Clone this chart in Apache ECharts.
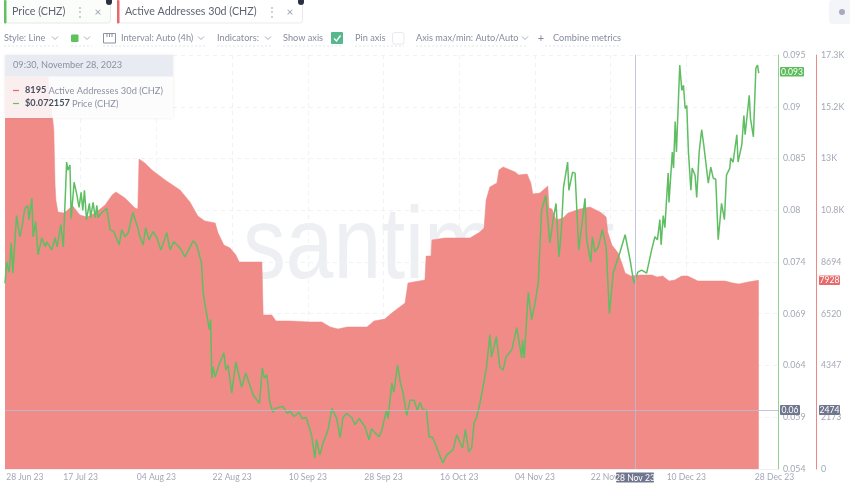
<!DOCTYPE html>
<html><head><meta charset="utf-8">
<style>html,body{margin:0;padding:0;background:#fff}#c{width:850px;height:489px}</style>
<script src="https://cdn.jsdelivr.net/npm/echarts@6/dist/echarts.min.js"></script>
</head><body><div id="c"></div>
<script>
// ---- data (x = days counted from the axis start, 28 Jun 2023 22:00) ----
const priceDays = [0,.4,1,1.5,1.9,2.8,3.6,4,4.8,5.5,5.8,6.5,6.8,7.4,8,8.9,9.7,10.1,11.3,12.1,12.6,13.5,14.1,14.9,15.2,15.7,16,16.7,17.3,17.9,18.4,18.8,19.2,19.7,20.4,20.7,21.3,21.8,22.2,22.5,23.4,24.6,25.4,26.3,27.6,28.2,29,29.8,30.9,32.1,32.6,33.4,34,34.8,35.8,36.7,37.7,39.1,39.9,40.8,42.3,43.5,45.5,46.3,47.5,47.9,48.6,49.4,49.7,50,50.3,50.8,51.7,52.9,53.4,53.9,54.8,55.8,57.2,58.2,60,61.5,62.2,62.7,63.3,64,64.8,65.3,67.2,68.2,68.9,69.9,71.1,71.8,72.8,74.1,74.9,75.3,76.1,76.9,78.1,79,80.2,81,81.7,82.6,83.8,84.6,85.6,87,88,88.6,89.4,90.4,91,92.2,92.6,93.5,94,94.9,95.6,96.2,97.1,97.9,98.9,99.7,100.3,101,101.9,102.5,103.4,104.1,105.8,106.8,108.3,109.2,110,110.6,111.3,112.1,112.8,113.4,114,114.8,115.5,116.4,117.2,117.6,118.8,119.6,120.4,121.1,122.5,123.7,124.9,125.1,125.5,126.5,127.3,128.1,128.9,129.7,130.7,131.7,132.5,133.2,133.9,134.5,135,136,136.3,137.2,137.8,138.2,138.7,140.2,140.6,141.6,142,142.6,143.4,144.4,145.3,146.1,147,148.6,149.9,151.1,152,153,153.9,155.1,156.3,157.1,157.7,158.3,158.6,159.1,159.5,160.3,160.5,161.3,161.6,162,162.3,163.1,163.6,164,164.4,164.8,165.2,165.8,166.1,166.8,167.2,167.8,168.4,168.9,170,170.6,171.2,171.8,172.4,173.2,173.9,174.4,175.2,175.4,176,176.9,177.2,178.1,178.6,178.9,179.9,180.2,180.9,181.5,181.9,182.2];
const priceValues = [.0724,.0745,.0735,.0764,.0734,.0791,.077,.0777,.0798,.0801,.0787,.0808,.077,.0785,.0752,.0769,.076,.0765,.0757,.0769,.076,.0782,.076,.0844,.0836,.0841,.0788,.0824,.0813,.0799,.0814,.0796,.0816,.0787,.0803,.0789,.0804,.0789,.0801,.0789,.0794,.0798,.0777,.0775,.0762,.0777,.077,.0774,.0794,.0779,.077,.0762,.0779,.0767,.0775,.0769,.0757,.0774,.0757,.0765,.0759,.075,.0766,.0762,.0744,.0714,.0697,.0678,.0688,.063,.0641,.0631,.0643,.0655,.0638,.0643,.0615,.0646,.0621,.0635,.0613,.0605,.064,.063,.0633,.0606,.0596,.06,.0602,.0595,.0597,.0592,.0596,.059,.0591,.0574,.0551,.0569,.0554,.0566,.0579,.06,.059,.0571,.0591,.0595,.0591,.0584,.059,.0582,.0569,.058,.0576,.0572,.0577,.0598,.059,.0625,.0616,.0643,.0625,.0616,.0593,.0608,.0608,.0598,.0606,.0599,.0598,.0572,.0571,.0564,.0546,.0554,.0559,.0574,.0566,.0561,.0579,.0557,.0561,.0586,.0591,.0605,.062,.0641,.0673,.0651,.0671,.0641,.0638,.0651,.0658,.068,.065,.0668,.065,.0715,.0688,.0704,.0724,.0796,.0811,.0764,.0787,.0803,.075,.0777,.0819,.0844,.0816,.0834,.0833,.0799,.0757,.0808,.0767,.0745,.077,.0755,.076,.0777,.076,.0694,.0734,.0754,.0772,.0747,.0724,.0735,.0737,.0734,.0757,.077,.0767,.0787,.0762,.0791,.0779,.0833,.0804,.0854,.0838,.0884,.0854,.094,.0915,.092,.0897,.09,.0854,.0816,.0838,.0831,.0809,.0854,.0876,.0861,.0823,.0839,.0828,.0827,.0767,.0803,.0787,.0831,.0838,.0848,.0844,.0871,.0844,.0861,.089,.0871,.091,.0887,.0869,.0937,.094,.0932];
const addressDays = [0,10.4,10.9,11.5,11.8,12.1,12.3,12.8,14.3,15.7,16.4,18.1,19.8,21.8,24.2,25.9,26.8,29,31.4,32.1,32.4,33.8,35.5,38.7,42.3,44.7,46.6,48.3,50.8,51.5,52.9,54.4,55.8,56.6,62.1,62.4,64.5,65.5,68.9,73.7,76.6,78.6,80.5,82.7,87.5,89.2,91.8,93.8,96.7,97.4,101.5,101.8,103,103.2,106.3,112.4,114.8,115.8,116.3,117.2,118.9,119.4,120.4,123.3,124.2,126.2,127.1,127.6,129.3,131.2,131.5,132.2,133.2,134.9,136.1,139,141.4,143.8,145.3,145.7,146.7,148.2,149.1,149.9,151.3,153.5,156.4,157.6,159,160.5,161.9,163.6,165,167.5,174,175.9,177.4,179.6,182.2];
const addressValues = [16464,16464,15498,14742,14238,11928,11298,10794,10752,10962,11046,10668,10584,10752,11088,11508,11634,11382,10962,10920,13020,12852,12558,12138,11718,11214,10626,10416,10332,9912,9408,9282,8988,8694,8694,6468,6468,6216,6216,6174,6174,5964,5880,5964,5964,6216,6300,6594,6972,7812,7938,8946,8946,9618,9702,9702,9954,10122,11298,11844,12012,12558,12684,12474,12348,12390,12012,11550,11592,11886,10962,10920,10458,10542,10752,10920,11004,10794,10584,9954,9408,9072,8652,8232,8106,8148,8148,8064,8106,7896,7938,8106,8106,7896,7896,7812,7770,7854,7928];
const xTickDays = [18.3,36.6,54.9,73.2,91.5,109.8,128.1,146.4,164.7];
const xLabelDays = [4.8,18.3,36.6,54.9,73.2,91.5,109.8,128.1,146.4,164.7,186.0];
const xLabels = ['28 Jun 23','17 Jul 23','04 Aug 23','22 Aug 23','10 Sep 23','28 Sep 23','16 Oct 23','04 Nov 23','22 Nov 23','10 Dec 23','28 Dec 23'];
const priceTicks = [.054,.059125,.06425,.069375,.0745,.079625,.08475,.089875,.095];
const priceTickLabels = ['0.054','0.059','0.064','0.069','0.074','0.08','0.085','0.09','0.095'];
const addressTicks = [0,2173.5,4347,6520.5,8694,10867.5,13041,15214.5,17388];
const addressTickLabels = ['0','2173','4347','6520','8694','10.8K','13K','15.2K','17.3K'];
const hoverDay = 152.3, hoverPrice = 0.0598;

const FONT = 'Lato, "Open Sans", sans-serif';
const zip = (ds, vs) => ds.map((d, i) => [d, vs[i]]);
const grey = '#a3a8b5', ctl = '#868b9e';

const els = [];
const T = (x, y, text, o = {}) => els.push({type:'text', x, y, silent:true, z:o.z ?? 50, scaleX:o.sx ?? 1, scaleY:o.sy ?? 1,
  style:{text, fill:o.c || ctl, font:`${o.w || 400} ${o.s || 9.2}px ${o.f || FONT}`, align:o.a || 'left', verticalAlign:'middle', opacity:o.op ?? 1}});
const R = (x, y, w, h, fill, o = {}) => els.push({type:'rect', silent:true, z:o.z ?? 49, shape:{x, y, width:w, height:h, r:o.r || 0},
  style:{fill, stroke:o.st || null, lineWidth:o.lw || 1, opacity:o.op ?? 1, shadowBlur:o.sb || 0, shadowColor:o.sc || 'transparent'}});
const P = (pts, o = {}) => els.push({type:'polyline', silent:true, z:o.z ?? 50, shape:{points:pts}, style:{stroke:o.c || '#a9adbc', lineWidth:o.lw || 1, fill:null, lineDash:o.d || null}});
const chev = (x, y) => P([[x-3,y-1.5],[x,y+1.5],[x+3,y-1.5]]);
const under = (x1, x2) => P([[x1,46],[x2,46]], {c:'#e3e5ec', d:[2,2]});

// watermark sits under the series
T(243, 250, 'santiment', {s:84, c:'#edeff3', z:0, sx:1.02, sy:1.22, f:'"Liberation Sans", sans-serif'});

// metric tabs
R(4.5, -3, 106, 26, '#fbfdfb', {st:'#e3ebe5', r:3});
R(4, 0, 2.5, 23.5, '#63c163', {r:1});
T(12, 12, 'Price (CHZ)', {s:10.7, c:'#5f6475'});
T(80, 12, '⋮', {s:12, c:'#b5b9c5', a:'center'});
T(98, 12, '×', {s:12, c:'#9da2ae', a:'center'});
R(118.5, -3, 184, 26, '#ffffff', {st:'#e9ebf0', r:3});
R(117, 0, 2.5, 23.5, '#e8696a', {r:1});
T(125, 12, 'Active Addresses 30d (CHZ)', {s:10.7, c:'#5f6475'});
T(272, 12, '⋮', {s:12, c:'#b5b9c5', a:'center'});
T(290, 12, '×', {s:12, c:'#9da2ae', a:'center'});
R(106, -2, 6, 7, '#2c3140', {r:3});
R(298, -2, 6, 7, '#2c3140', {r:3});
R(829, 0, 24, 24, '#f4f5f9', {r:4});
R(839, 9, 6, 6, '#a6a9c0', {r:3});

// control row
T(4, 38, 'Style: Line'); chev(55, 38); under(4, 60);
R(71, 34.5, 7.5, 7.5, '#5cc25c', {r:1}); chev(87, 38); under(71, 92);
P([[103.5,43],[103.5,33.5],[115.5,33.5],[115.5,43],[103.5,43]], {c:'#8d91a3'});
P([[107,33.5],[107,37]], {c:'#8d91a3'}); P([[109.5,33.5],[109.5,37]], {c:'#8d91a3'}); P([[112,33.5],[112,37]], {c:'#8d91a3'});
T(121, 38, 'Interval: Auto (4h)'); chev(201, 38); under(103, 205);
T(217, 38, 'Indicators:'); chev(268, 38); under(217, 272);
T(283, 38, 'Show axis'); under(283, 343);
R(331, 32, 12, 12, '#57b88d', {r:1});
P([[334,38.5],[336.5,41],[340.5,35.5]], {c:'#fff', lw:1.3});
T(355, 38, 'Pin axis'); under(355, 404);
R(392.5, 32.5, 11.5, 11.5, '#fff', {st:'#e8e9ef', r:2});
T(416, 38, 'Axis max/min: Auto/Auto'); chev(525, 38); under(416, 528);
T(541, 38, '+', {s:11, a:'center'});
T(553, 38, 'Combine metrics'); under(545, 620);

// hover tooltip
R(5, 55, 168, 63, 'rgba(255,255,255,0.86)', {z:48, sb:3, sc:'rgba(120,130,150,0.18)'});
R(5, 55, 168, 21.5, '#e8ebf1', {z:49});
T(13, 65.5, '09:30, November 28, 2023', {c:'#8b91a1'});
P([[13,90.5],[19,90.5]], {c:'#e8696a', lw:1.2});
T(25, 90.5, '8195', {c:'#4a4f60', w:700});
T(48.5, 90.5, 'Active Addresses 30d (CHZ)', {c:'#8b91a1', s:9.3});
P([[13,103.5],[19,103.5]], {c:'#63c163', lw:1.2});
T(25, 103.5, '$0.072157', {c:'#4a4f60', w:700});
T(72, 103.5, 'Price (CHZ)', {c:'#8b91a1', s:9.3});

// axis read-outs
const chip = (x, y, w, h, fill, text) => { R(x, y, w, h, fill, {z:60, r:1}); T(x + w/2, y + h/2 + .3, text, {s:8.6, c:'#fff', a:'center', z:61}); };
chip(780, 67, 24, 9.5, '#5cbd5c', '0.093');
chip(819, 275.5, 21, 9.5, '#e86a6a', '7928');
chip(780, 405, 20, 10, '#71768f', '0.06');
chip(819, 405, 21, 10, '#71768f', '2474');
chip(616, 472.5, 38, 10, '#71768f', '28 Nov 23');

const yAxisBase = (color, ticks, labels) => ({
  type:'value', position:'right', min:ticks[0], max:ticks[ticks.length-1],
  axisLine:{show:true, onZero:false, lineStyle:{color, width:1}},
  axisTick:{show:false, customValues:ticks},
  axisLabel:{customValues:ticks, color:grey, fontSize:8.8, fontFamily:FONT, margin:5,
    formatter:v => labels[ticks.indexOf(v)]}
});

const chart = echarts.init(document.getElementById('c'), null, {renderer:'canvas'});
chart.setOption({
  animation:false, backgroundColor:'#fff',
  grid:{left:5, right:72, top:55, bottom:20},
  xAxis:{type:'value', min:0, max:186.85,
    axisLine:{show:true, onZero:false, lineStyle:{color:'#eceef3'}},
    axisTick:{show:false, customValues:xTickDays},
    axisLabel:{customValues:xLabelDays, color:grey, fontSize:8.6, fontFamily:FONT, margin:4,
      formatter:v => xLabels[xLabelDays.indexOf(v)]},
    splitLine:{show:true, lineStyle:{color:'#eff1f5', type:[4,4]}}},
  yAxis:[
    Object.assign(yAxisBase('#93d193', priceTicks, priceTickLabels),
      {splitLine:{show:true, lineStyle:{color:'#eff1f5', type:[4,4]}}}),
    Object.assign(yAxisBase('#e98a86', addressTicks, addressTickLabels),
      {offset:38, splitLine:{show:false}})
  ],
  graphic:{elements:els},
  series:[
    {name:'Active Addresses 30d (CHZ)', type:'line', yAxisIndex:1, z:2, showSymbol:false, symbol:'none', silent:true,
      data:zip(addressDays, addressValues), lineStyle:{width:0.5, color:'#ef8784'}, areaStyle:{color:'#ef8683', opacity:0.96}},
    {name:'Price (CHZ)', type:'line', yAxisIndex:0, z:4, showSymbol:false, symbol:'none', silent:true,
      data:zip(priceDays, priceValues), lineStyle:{width:1.5, color:'#5fbe62'},
      markLine:{silent:true, symbol:'none', precision:5, label:{show:false}, lineStyle:{color:'#b9bbd3', width:1, type:'solid', opacity:.85},
        data:[{xAxis:hoverDay},{yAxis:hoverPrice}]}}
  ]
});
</script></body></html>
